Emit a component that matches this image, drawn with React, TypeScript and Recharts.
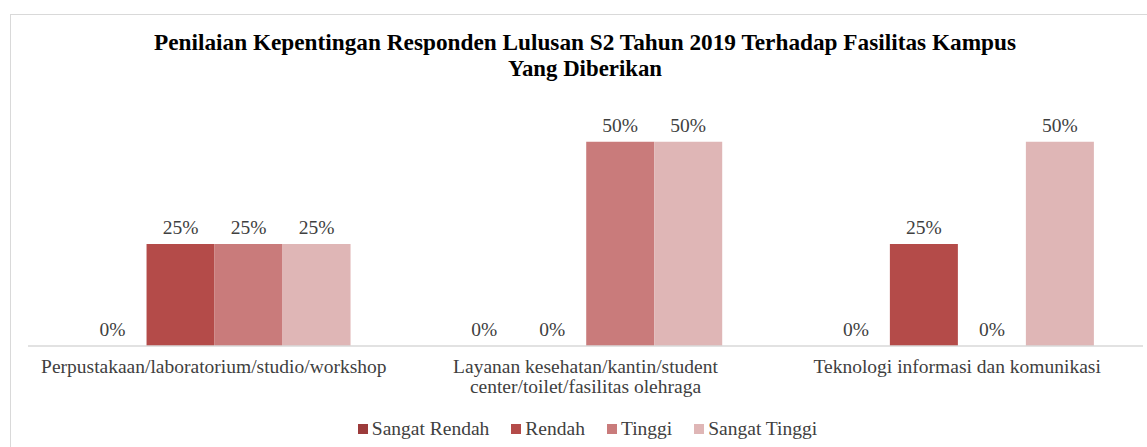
import { BarChart, Bar, XAxis, YAxis, LabelList, Legend } from "recharts";

const categories = [
  "Perpustakaan/laboratorium/studio/workshop",
  "Layanan kesehatan/kantin/student\ncenter/toilet/fasilitas olehraga",
  "Teknologi informasi dan komunikasi",
];
const sangatRendah = [0, 0, 0];
const rendah = [0.25, 0, 0.25];
const tinggi = [0.25, 0.5, 0];
const sangatTinggi = [0.25, 0.5, 0.5];

const SERIES = [
  { key: "sangatRendah", name: "Sangat Rendah", color: "#9c3b3b" },
  { key: "rendah", name: "Rendah", color: "#b44b49" },
  { key: "tinggi", name: "Tinggi", color: "#c97b7b" },
  { key: "sangatTinggi", name: "Sangat Tinggi", color: "#dfb6b6" },
];

const FONT = "Liberation Serif, Times New Roman, serif";
const TEXT = "#404040";
const FS = 19.5;

const data = categories.map((name, i) => ({
  name,
  sangatRendah: sangatRendah[i],
  rendah: rendah[i],
  tinggi: tinggi[i],
  sangatTinggi: sangatTinggi[i],
}));

const pct = (v: any) => `${Math.round(Number(v) * 100)}%`;

// zero bars get a hair of height so their "0%" label is still drawn
const zeroSize = (v: any) => (Number(v) === 0 ? 0.01 : 0);

function CategoryTick({ x, y, payload }: any) {
  const lines = String(payload.value).split("\n");
  return (
    <text x={x} y={y} textAnchor="middle" fill={TEXT} fontFamily={FONT} fontSize={FS}>
      {lines.map((l, i) => (
        <tspan key={i} x={x} dy={i === 0 ? 19 : 20}>
          {l}
        </tspan>
      ))}
    </text>
  );
}

function LegendContent() {
  return (
    <div style={{ display: "flex", justifyContent: "center", gap: 22, fontFamily: FONT, fontSize: FS, color: TEXT, lineHeight: "22px" }}>
      {SERIES.map((s) => (
        <div key={s.key} style={{ display: "flex", alignItems: "center", gap: 4 }}>
          <span style={{ display: "inline-block", width: 10, height: 10, background: s.color }} />
          <span>{s.name}</span>
        </div>
      ))}
    </div>
  );
}

export default function App() {
  return (
    <div style={{ position: "absolute", left: 0, top: 0, width: 1147, height: 447, overflow: "hidden", background: "#fff" }}>
      <div style={{ position: "absolute", left: 10, top: 14, width: 1200, height: 500, border: "1px solid #d9d9d9" }} />
      <svg width={1147} height={100} style={{ position: "absolute", left: 0, top: 0 }}>
        <text x={585} y={50} textAnchor="middle" fontFamily={FONT} fontWeight="bold" fontSize={24} fill="#000" textLength={862} lengthAdjust="spacingAndGlyphs">
          Penilaian Kepentingan Responden Lulusan S2 Tahun 2019 Terhadap Fasilitas Kampus
        </text>
        <text x={585} y={76} textAnchor="middle" fontFamily={FONT} fontWeight="bold" fontSize={24} fill="#000" textLength={154} lengthAdjust="spacingAndGlyphs">
          Yang Diberikan
        </text>
      </svg>
      <div style={{ position: "absolute", left: 0, top: 0 }}>
        <BarChart
          width={1147}
          height={447}
          data={data}
          margin={{ top: 101, right: 4, bottom: 41, left: 28 }}
          barCategoryGap="13.6%"
          barGap={0}
        >
          <XAxis
            dataKey="name"
            height={60}
            interval={0}
            tickLine={false}
            axisLine={{ stroke: "#d9d9d9", strokeWidth: 1.5 }}
            tick={<CategoryTick />}
          />
          <YAxis hide domain={[0, 0.6]} />
          <Legend
            verticalAlign="bottom"
            content={<LegendContent />}
            wrapperStyle={{ top: 418, left: 14, width: 1147, height: 0, overflow: "visible" }}
          />
          {SERIES.map((s) => (
            <Bar key={s.key} dataKey={s.key} name={s.name} fill={s.color} minPointSize={zeroSize} isAnimationActive={false}>
              <LabelList dataKey={s.key} position="top" offset={10} formatter={pct} fill={TEXT} fontFamily={FONT} fontSize={FS} />
            </Bar>
          ))}
        </BarChart>
      </div>
    </div>
  );
}
